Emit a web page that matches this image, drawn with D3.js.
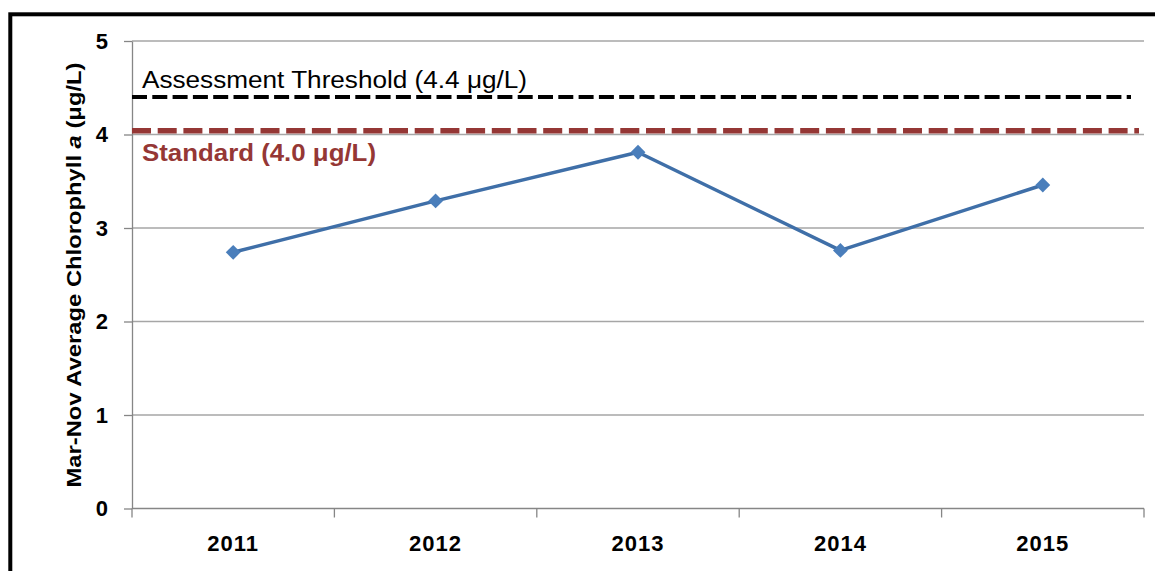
<!DOCTYPE html>
<html>
<head>
<meta charset="utf-8">
<script src="https://cdn.jsdelivr.net/npm/d3@7"></script>
<style>
  html, body { margin: 0; padding: 0; background: #fff; }
  svg { display: block; font-family: "Liberation Sans", Arial, sans-serif; }
</style>
</head>
<body>
<svg id="chart" width="1155" height="571"></svg>
<script>
// datos
const years = ['2011', '2012', '2013', '2014', '2015'];
const chlA = [2.74, 3.29, 3.81, 2.76, 3.46];
const yTicks = [0, 1, 2, 3, 4, 5];
const thresholdVal = 4.4;
const standardVal = 4.04;
const thresholdLabel = 'Assessment Threshold (4.4 μg/L)';
const standardLabel = 'Standard (4.0 μg/L)';
const yTitle = 'Mar-Nov Average Chlorophyll ';

const svg = d3.select('#chart');
const pLeft = 132, pRight = 1144, pTop = 41, pBottom = 508.5;
const font = '"Liberation Sans", Arial, sans-serif';

const x = d3.scaleBand().domain(years).range([pLeft, pRight]).padding(0);
const y = d3.scaleLinear().domain([0, 5]).range([pBottom, pTop]);

// marco
svg.append('rect')
  .attr('x', 10.3).attr('y', 14.3)
  .attr('width', 1300).attr('height', 700)
  .attr('fill', 'none').attr('stroke', '#000').attr('stroke-width', 4);

// rejilla
svg.append('g').selectAll('line').data(yTicks.filter(d => d > 0)).join('line')
  .attr('x1', pLeft).attr('x2', pRight)
  .attr('y1', d => y(d)).attr('y2', d => y(d))
  .attr('stroke', '#a6a6a6').attr('stroke-width', 1.3);

// eje y
const yAxis = svg.append('g').attr('transform', `translate(${pLeft},0)`)
  .call(d3.axisLeft(y).tickValues(yTicks).tickFormat(d3.format('d'))
    .tickSize(8).tickSizeOuter(0).tickPadding(16));
yAxis.attr('font-family', font);
yAxis.select('.domain').attr('stroke', '#868686').attr('stroke-width', 1.3);
yAxis.selectAll('.tick line').attr('stroke', '#868686').attr('stroke-width', 1.3);
yAxis.selectAll('.tick text')
  .attr('font-size', 22).attr('font-weight', 'bold').attr('fill', '#000');

// eje x
const xAxis = svg.append('g').attr('transform', `translate(0,${pBottom})`);
xAxis.append('line').attr('x1', pLeft).attr('x2', pRight)
  .attr('stroke', '#868686').attr('stroke-width', 1.3);
const edges = years.map(d => x(d)).concat([pRight]);
xAxis.selectAll('line.tk').data(edges).join('line').attr('class', 'tk')
  .attr('x1', d => d).attr('x2', d => d).attr('y1', 0).attr('y2', 9)
  .attr('stroke', '#868686').attr('stroke-width', 1.3);
xAxis.selectAll('text').data(years).join('text')
  .attr('x', d => x(d) + x.bandwidth() / 2).attr('y', 42)
  .attr('text-anchor', 'middle')
  .attr('font-size', 22).attr('font-weight', 'bold')
  .attr('letter-spacing', '1px')
  .text(d => d);

// líneas de referencia
svg.append('line')
  .attr('x1', pLeft).attr('x2', 1131)
  .attr('y1', y(thresholdVal)).attr('y2', y(thresholdVal))
  .attr('stroke', '#000').attr('stroke-width', 4)
  .attr('stroke-dasharray', '15,5.3');
svg.append('line')
  .attr('x1', pLeft).attr('x2', 1139)
  .attr('y1', y(standardVal)).attr('y2', y(standardVal))
  .attr('stroke', '#953735').attr('stroke-width', 5.5)
  .attr('stroke-dasharray', '19,6.7');

svg.append('text')
  .attr('x', 142).attr('y', 88)
  .attr('textLength', 385).attr('lengthAdjust', 'spacingAndGlyphs')
  .attr('font-size', 23).attr('fill', '#000')
  .text(thresholdLabel);
svg.append('text')
  .attr('x', 142).attr('y', 161)
  .attr('textLength', 234).attr('lengthAdjust', 'spacingAndGlyphs')
  .attr('font-size', 24).attr('font-weight', 'bold').attr('fill', '#953735')
  .text(standardLabel);

// título del eje y
const title = svg.append('text')
  .attr('transform', 'translate(81,275) rotate(-90)')
  .attr('text-anchor', 'middle')
  .attr('textLength', 425).attr('lengthAdjust', 'spacingAndGlyphs')
  .attr('font-size', 21).attr('font-weight', 'bold');
title.append('tspan').text(yTitle);
title.append('tspan').attr('font-style', 'italic').text('a');
title.append('tspan').text(' (μg/L)');

// serie
const pts = years.map((d, i) => ({ year: d, v: chlA[i] }));
const cx = d => x(d.year) + x.bandwidth() / 2;
svg.append('path').datum(pts)
  .attr('fill', 'none').attr('stroke', '#3f6fa8').attr('stroke-width', 3.5)
  .attr('stroke-linejoin', 'round')
  .attr('d', d3.line().x(cx).y(d => y(d.v)));
svg.append('g').selectAll('path').data(pts).join('path')
  .attr('transform', d => `translate(${cx(d)},${y(d.v)}) rotate(45)`)
  .attr('d', d3.symbol(d3.symbolSquare, 110))
  .attr('fill', '#4a7ebb');
</script>
</body>
</html>
